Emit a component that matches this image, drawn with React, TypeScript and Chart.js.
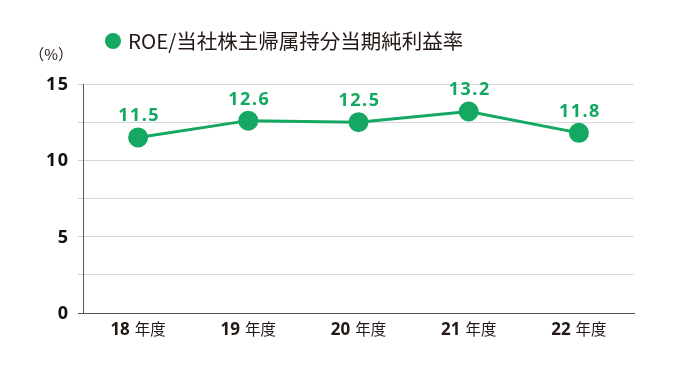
import React, { useEffect, useRef } from 'react';
import { Chart, registerables } from 'chart.js';

Chart.register(...registerables);

const categories = ['18', '19', '20', '21', '22'];
const categorySuffix = '年度';
const roeValues = [11.5, 12.6, 12.5, 13.2, 11.8];
const seriesLabel = 'ROE/当社株主帰属持分当期純利益率';
const yTickLabels = [0, 5, 10, 15];
const unitLabel = '（%）';

const GREEN = '#14a862';
const TEXT = '#231815';
const FONT = '"Noto Sans", "Noto Sans CJK JP", sans-serif';
const JP = '"Noto Sans CJK JP", sans-serif';

const overlay = {
  id: 'overlay',
  afterDatasetsDraw(chart: any) {
    const ctx = chart.ctx as any;
    const meta = chart.getDatasetMeta(0);
    ctx.save();
    // y tick labels
    const ys = chart.scales.y;
    ctx.fillStyle = '#111';
    ctx.font = `bold 18px ${FONT}`;
    ctx.letterSpacing = '1.5px';
    ctx.textAlign = 'right';
    ctx.textBaseline = 'middle';
    yTickLabels.forEach((v) => {
      ctx.fillText(String(v), 69.5, ys.getPixelForValue(v) + 1);
    });
    // data labels
    ctx.fillStyle = GREEN;
    ctx.textAlign = 'center';
    ctx.textBaseline = 'alphabetic';
    meta.data.forEach((pt: any, i: number) => {
      ctx.fillText(roeValues[i].toFixed(1), pt.x + 1, pt.y - 16);
    });
    ctx.letterSpacing = '0px';
    // x labels
    const xs = chart.scales.x;
    const baseY = chart.chartArea.bottom + 22;
    categories.forEach((c, i) => {
      const cx = xs.getPixelForValue(i);
      ctx.font = `bold 17px ${FONT}`;
      const w1 = ctx.measureText(c).width;
      ctx.font = `15.5px ${JP}`;
      const w2 = ctx.measureText(categorySuffix).width;
      const gap = 5;
      const start = cx - (w1 + gap + w2) / 2;
      ctx.textAlign = 'left';
      ctx.fillStyle = TEXT;
      ctx.font = `bold 17px ${FONT}`;
      ctx.fillText(c, start, baseY);
      ctx.font = `15.5px ${JP}`;
      ctx.fillText(categorySuffix, start + w1 + gap, baseY);
    });
    // legend
    ctx.fillStyle = GREEN;
    ctx.beginPath();
    ctx.arc(113, 41, 8, 0, Math.PI * 2);
    ctx.fill();
    ctx.fillStyle = TEXT;
    ctx.font = `20.5px ${JP}`;
    ctx.textAlign = 'left';
    ctx.textBaseline = 'middle';
    ctx.fillText(seriesLabel, 128, 41);
    // unit
    ctx.font = `15px ${JP}`;
    ctx.textAlign = 'right';
    ctx.fillText(unitLabel, 73, 54);
    ctx.restore();
  },
};

export default function App() {
  const ref = useRef<HTMLCanvasElement | null>(null);
  useEffect(() => {
    if (!ref.current) return;
    const chart = new Chart(ref.current, {
      type: 'line',
      data: {
        labels: categories,
        datasets: [
          {
            label: seriesLabel,
            data: roeValues,
            borderColor: GREEN,
            backgroundColor: GREEN,
            pointBackgroundColor: GREEN,
            pointBorderColor: GREEN,
            pointRadius: 8.5,
            pointHoverRadius: 8.5,
            borderWidth: 3,
            tension: 0,
          },
        ],
      },
      options: {
        responsive: false,
        animation: false,
        layout: { padding: { top: 84, right: 56, left: 0, bottom: 0 } },
        plugins: { legend: { display: false }, tooltip: { enabled: false } },
        scales: {
          x: {
            type: 'category',
            offset: true,
            grid: { display: false },
            border: { display: true, color: '#555', width: 1 },
            ticks: { display: false },
            afterFit: (s: any) => {
              s.height = 61;
            },
          },
          y: {
            min: 0,
            max: 15,
            ticks: {
              stepSize: 2.5,
              autoSkip: false,
              display: false,
            },
            grid: {
              color: (c: any) => (c.tick && c.tick.value === 0 ? '#555' : '#d9d9d9'),
              tickColor: (c: any) => (c.tick && c.tick.value === 0 ? '#555' : '#cfcfcf'),
              tickLength: 5,
              lineWidth: 1,
            },
            border: { display: true, color: '#555', width: 1 },
            afterFit: (s: any) => {
              s.width = 83;
            },
          },
        },
      },
      plugins: [overlay],
    });
    return () => chart.destroy();
  }, []);
  return (
    <div style={{ position: 'absolute', left: 0, top: 0, width: 690, height: 374, background: '#fff' }}>
      <canvas ref={ref} width={690} height={374} style={{ display: 'block' }} />
    </div>
  );
}
